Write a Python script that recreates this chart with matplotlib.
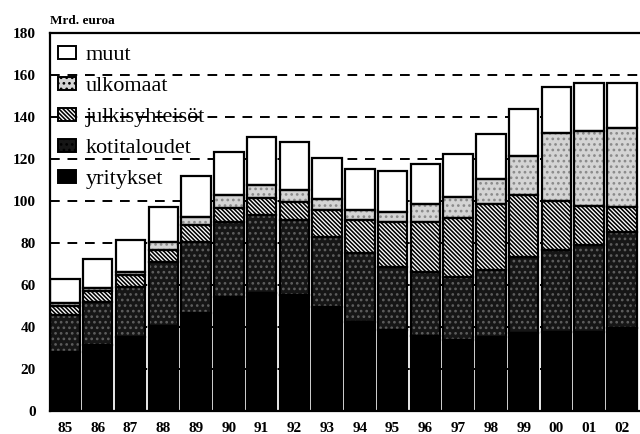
import numpy as np
import matplotlib
matplotlib.use("Agg")
import matplotlib.pyplot as plt
from matplotlib.patches import Patch

# Velkojen jakauma sektoreittain, mrd. euroa (luettu kuvasta)
years = ["85", "86", "87", "88", "89", "90", "91", "92", "93",
         "94", "95", "96", "97", "98", "99", "00", "01", "02"]
yritykset = [28.0, 31.5, 35.0, 40.5, 46.5, 54.4, 56.3, 55.2, 49.7,
             42.5, 38.6, 35.7, 33.8, 35.4, 37.0, 37.8, 37.8, 39.4]
kotitaloudet = [17.5, 20.5, 24.2, 30.6, 34.1, 35.6, 37.0, 35.8, 33.3,
                32.6, 30.1, 30.6, 30.2, 31.7, 36.5, 38.9, 41.2, 46.0]
julkisyhteisot = [4.5, 5.3, 5.6, 5.6, 8.0, 6.5, 8.0, 8.7, 12.7,
                  15.9, 21.4, 23.8, 27.8, 31.5, 29.4, 23.4, 18.6, 11.9]
ulkomaat = [1.5, 1.2, 1.5, 3.9, 3.6, 6.4, 6.3, 5.5, 5.1,
            4.7, 4.8, 8.5, 10.2, 11.7, 18.5, 32.4, 35.9, 37.3]
muut = [11.5, 13.7, 15.1, 16.7, 19.7, 20.6, 23.0, 22.7, 19.5,
        19.5, 19.4, 19.0, 20.2, 21.6, 22.3, 21.9, 22.9, 21.4]

series = [
    ("yritykset", yritykset, "black", "", "black"),
    ("kotitaloudet", kotitaloudet, "#161616", "...", "#5e5e5e"),
    ("julkisyhteisöt", julkisyhteisot, "white", "\\" * 8, "black"),
    ("ulkomaat", ulkomaat, "#d4d4d4", "...", "#8a8a8a"),
    ("muut", muut, "white", "", "black"),
]

plt.rcParams["hatch.linewidth"] = 1.15
serif = "Liberation Serif"

fig = plt.figure(figsize=(6.4, 4.34), dpi=100)
ax = fig.add_axes([0.078, 0.053, 0.922, 0.871])

x = np.arange(len(years))
width = 0.9
bottom = np.zeros(len(years))
for name, vals, fc, hatch, hc in series:
    vals = np.array(vals)
    ax.bar(x, vals, width, bottom=bottom, color=fc, hatch=hatch,
           edgecolor=hc, linewidth=0, zorder=2)
    ax.bar(x, vals, width, bottom=bottom, fill=False,
           edgecolor="black", linewidth=1.6, zorder=3)
    bottom += vals

ax.set_ylim(0, 180)
ax.set_xlim(-0.46, 17.55)
ax.set_yticks(range(0, 181, 20))
ax.set_xticks(x)
ax.set_xticklabels(years)
for t in ax.get_xticklabels() + ax.get_yticklabels():
    t.set_fontfamily(serif)
    t.set_fontweight("bold")
    t.set_fontsize(11)
ax.tick_params(axis="x", length=0, pad=8)
ax.tick_params(axis="y", length=0, pad=10)

for v in range(20, 180, 20):
    ax.axhline(v, color="black", linewidth=1.4, linestyle=(0, (5, 4)), zorder=1)

ax.spines["right"].set_visible(False)
for s in ["left", "top", "bottom"]:
    ax.spines[s].set_linewidth(1.6)

handles = []
for name, vals, fc, hatch, hc in series[::-1]:
    handles.append(Patch(facecolor=fc, hatch=hatch, edgecolor="black",
                         linewidth=1.4, label=name))
leg = ax.legend(handles=handles, loc="upper left", bbox_to_anchor=(0.0, 0.986),
                frameon=False, prop={"family": serif, "size": 16},
                handlelength=0.82, handleheight=0.5, handletextpad=0.42,
                labelspacing=0.53, borderaxespad=0.15, borderpad=0.2)
leg.set_zorder(5)

fig.text(50 / 640, 1 - 21 / 434, "Mrd. euroa", family=serif, fontsize=9.5,
         fontweight="bold", va="center", ha="left")

fig.savefig("out.png", dpi=100)
